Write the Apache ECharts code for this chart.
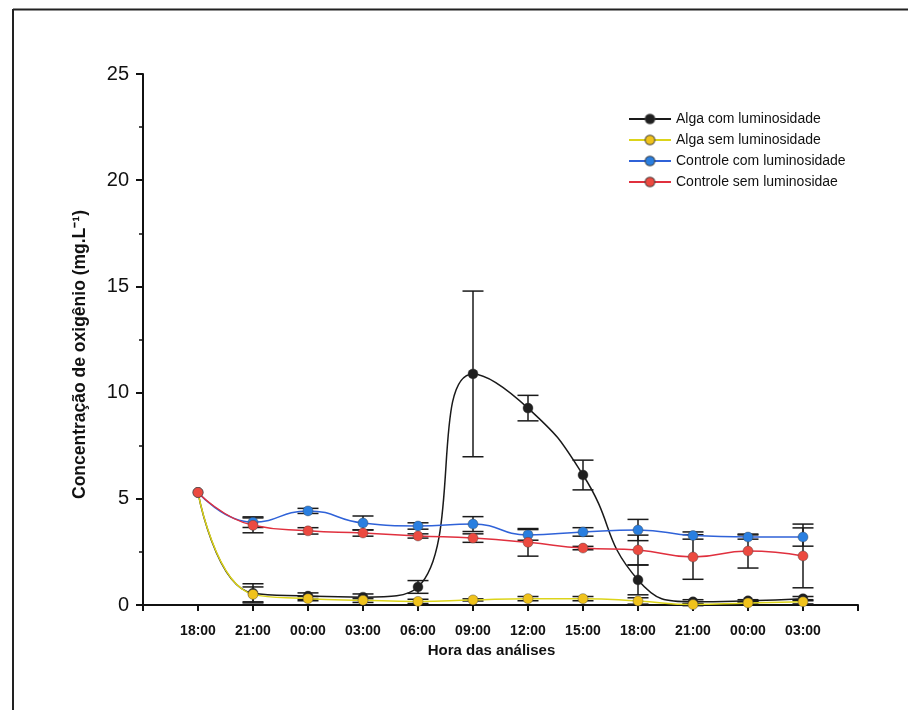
<!DOCTYPE html>
<html>
<head>
<meta charset="utf-8">
<script src="https://cdn.jsdelivr.net/npm/echarts@6/dist/echarts.min.js"></script>
<style>
  html, body { margin: 0; padding: 0; background: #fff; }
  #chart { width: 908px; height: 710px; }
</style>
</head>
<body>
<div id="chart"></div>
<script>
// Sampling times (hours of the day over the experiment)
const categories = ['18:00', '21:00', '00:00', '03:00', '06:00', '09:00', '12:00', '15:00', '18:00', '21:00', '00:00', '03:00'];

// Dissolved oxygen (mg/L) and standard deviations per treatment
const algaCom = [5.3, 0.55, 0.42, 0.37, 0.85, 10.88, 9.27, 6.12, 1.18, 0.15, 0.2, 0.3];
const algaComErr = [0, 0.45, 0.15, 0.15, 0.3, 3.9, 0.6, 0.7, 0.7, 0.1, 0.05, 0.1];
const algaSem = [5.3, 0.5, 0.3, 0.22, 0.17, 0.24, 0.3, 0.3, 0.19, 0.02, 0.1, 0.15];
const algaSemErr = [0, 0.35, 0.1, 0.1, 0.1, 0.05, 0.1, 0.1, 0.15, 0.05, 0.05, 0.1];
const controleCom = [5.3, 3.9, 4.43, 3.86, 3.72, 3.81, 3.3, 3.44, 3.53, 3.27, 3.2, 3.2];
const controleComErr = [0, 0.25, 0.12, 0.33, 0.15, 0.35, 0.25, 0.2, 0.5, 0.17, 0.1, 0.43];
const controleSem = [5.3, 3.75, 3.49, 3.39, 3.25, 3.15, 2.95, 2.68, 2.59, 2.26, 2.54, 2.31];
const controleSemErr = [0, 0.35, 0.15, 0.15, 0.1, 0.2, 0.65, 0.08, 0.7, 1.05, 0.8, 1.5];

const seriesNames = ['Alga com luminosidade', 'Alga sem luminosidade', 'Controle com luminosidade', 'Controle sem luminosidae'];

const FONT = 'Liberation Sans, Arial, sans-serif';

const treatments = [
  { name: seriesNames[0], values: algaCom, errors: algaComErr, line: '#1a1a1a', dot: '#1f1f1f' },
  { name: seriesNames[1], values: algaSem, errors: algaSemErr, line: '#dcd41a', dot: '#f0c21c' },
  { name: seriesNames[2], values: controleCom, errors: controleComErr, line: '#2f62d8', dot: '#2a7fe0' },
  { name: seriesNames[3], values: controleSem, errors: controleSemErr, line: '#e0303e', dot: '#ec4a40' }
];

const points = vals => vals.map((v, i) => [i, v]);

// Vertical error bars with horizontal caps
function errorSeries(t) {
  return {
    type: 'custom',
    name: t.name + ' (erro)',
    silent: true,
    clip: false,
    data: t.values.map((v, i) => [i, v - t.errors[i], v + t.errors[i], t.errors[i]]),
    renderItem: function (params, api) {
      if (api.value(3) <= 0) return null;
      const lo = api.coord([api.value(0), api.value(1)]);
      const hi = api.coord([api.value(0), api.value(2)]);
      const hw = 10.5;
      const style = { stroke: '#1a1a1a', lineWidth: 1.5 };
      return {
        type: 'group',
        children: [
          { type: 'line', shape: { x1: lo[0], y1: lo[1], x2: hi[0], y2: hi[1] }, style },
          { type: 'line', shape: { x1: hi[0] - hw, y1: hi[1], x2: hi[0] + hw, y2: hi[1] }, style },
          { type: 'line', shape: { x1: lo[0] - hw, y1: lo[1], x2: lo[0] + hw, y2: lo[1] }, style }
        ]
      };
    }
  };
}

function lineSeries(t) {
  return {
    type: 'line',
    name: t.name,
    data: points(t.values),
    smooth: 0.5,
    symbol: 'circle',
    symbolSize: 10,
    showSymbol: true,
    lineStyle: { color: t.line, width: 1.5 },
    itemStyle: { color: t.dot, borderColor: 'rgba(60,60,60,0.5)', borderWidth: 0.8 },
    emphasis: { disabled: true }
  };
}

const chart = echarts.init(document.getElementById('chart'));

chart.setOption({
  animation: false,
  backgroundColor: '#ffffff',
  textStyle: { fontFamily: FONT },
  grid: { left: 143, right: 50, top: 74, bottom: 105, containLabel: false },
  legend: {
    data: seriesNames,
    orient: 'vertical',
    left: 623,
    top: 107,
    itemWidth: 42,
    itemHeight: 12,
    itemGap: 7,
    textStyle: { fontFamily: FONT, fontSize: 14, color: '#111' }
  },
  xAxis: {
    type: 'value',
    min: -1,
    max: 12,
    interval: 1,
    name: 'Hora das análises',
    nameLocation: 'middle',
    nameGap: 37,
    nameTextStyle: { fontFamily: FONT, fontSize: 15, fontWeight: 'bold', color: '#111', padding: [0, 18, 0, 0] },
    axisLine: { show: true, onZero: false, lineStyle: { color: '#111', width: 2 } },
    axisTick: { show: true, inside: false, length: 6, lineStyle: { color: '#111', width: 2 } },
    axisLabel: {
      margin: 19,
      fontFamily: FONT,
      fontSize: 14,
      fontWeight: 'bold',
      color: '#111',
      showMinLabel: true,
      showMaxLabel: true,
      formatter: v => (v >= 0 && v < categories.length ? categories[v] : '')
    },
    splitLine: { show: false }
  },
  yAxis: {
    type: 'value',
    min: 0,
    max: 25,
    interval: 5,
    name: 'Concentração de oxigênio (mg.L⁻¹)',
    nameLocation: 'middle',
    nameGap: 54,
    nameRotate: 90,
    nameTextStyle: { fontFamily: FONT, fontSize: 17.5, fontWeight: 'bold', color: '#111', padding: [0, 30, 0, 0] },
    axisLine: { show: true, onZero: false, lineStyle: { color: '#111', width: 2 } },
    axisTick: { show: true, inside: false, length: 7, lineStyle: { color: '#111', width: 2 } },
    minorTick: { show: true, splitNumber: 2, length: 4, lineStyle: { color: '#111', width: 1.5 } },
    axisLabel: { margin: 14, fontFamily: FONT, fontSize: 20, color: '#111' },
    splitLine: { show: false }
  },
  graphic: [
    { type: 'line', silent: true, shape: { x1: 13, y1: 9.5, x2: 908, y2: 9.5 }, style: { stroke: '#222', lineWidth: 2 } },
    { type: 'line', silent: true, shape: { x1: 13, y1: 9, x2: 13, y2: 710 }, style: { stroke: '#222', lineWidth: 2 } }
  ],
  series: [
    ...treatments.map(errorSeries),
    ...treatments.map(lineSeries)
  ]
});
</script>
</body>
</html>
